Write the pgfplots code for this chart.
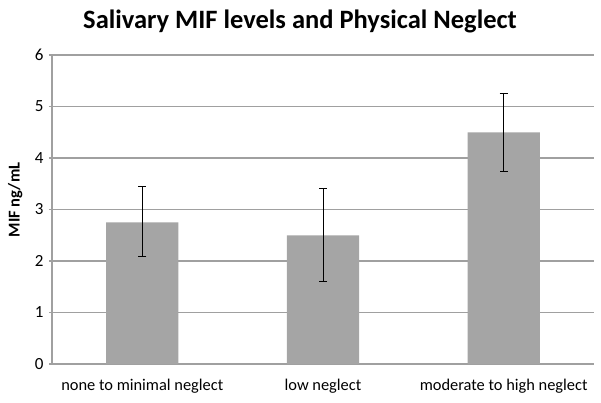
\documentclass[border=0pt]{standalone}
\usepackage{pgfplots}
\pgfplotsset{compat=1.18}
\usepackage{fontspec}
\setmainfont{Carlito}
\definecolor{barg}{RGB}{165,165,165}
\definecolor{gridg}{RGB}{160,160,160}

\begin{document}
\begin{tikzpicture}
\begin{axis}[
  scale only axis,
  at={(0,0)}, anchor=south west,
  width=542pt, height=309pt,
  ymin=0, ymax=6, ytick={0,1,...,6},
  xmin=-0.5, xmax=2.5,
  xtick={0,1,2},
  xticklabels={none to minimal neglect, low neglect, moderate to high neglect},
  axis lines*=left,
  x axis line style={draw=none},
  y axis line style={gridg, line width=1.3pt},
  tick align=outside,
  major tick length=3pt,
  ytick style={gridg, line width=1.3pt},
  xtick style={draw=none},
  ymajorgrids,
  major grid style={gridg, line width=1.3pt},
  yticklabel style={font=\fontsize{17}{19}\selectfont, xshift=-2pt},
  xticklabel style={font=\fontsize{16.4}{19}\selectfont, anchor=base, yshift=-23pt},
  /pgf/number format/assume math mode=true,
  ylabel={\bfseries MIF ng/mL},
  ylabel style={font=\fontsize{16.5}{18}\selectfont,
    at={(axis description cs:-0.068,0.531)}, anchor=center},
  title={\bfseries Salivary MIF levels and Physical Neglect},
  title style={font=\fontsize{26.5}{30}\selectfont,
    at={(axis description cs:0.4576,1)}, anchor=base, yshift=20pt},
  ybar, bar width=0.4,
]
  \addplot[draw=none, fill=barg,
    error bars/.cd, y dir=both, y explicit,
    error bar style={black, line width=0.9pt},
    error mark options={rotate=90, black, mark size=4pt, line width=0.9pt}]
  coordinates {
    (0,2.75) += (0,0.70) -= (0,0.67)
    (1,2.50) += (0,0.90) -= (0,0.90)
    (2,4.50) += (0,0.76) -= (0,0.76)
  };
\end{axis}
\pgfresetboundingbox
\useasboundingbox (-52pt,-38pt) rectangle (549pt,364pt);
\end{tikzpicture}
\end{document}
